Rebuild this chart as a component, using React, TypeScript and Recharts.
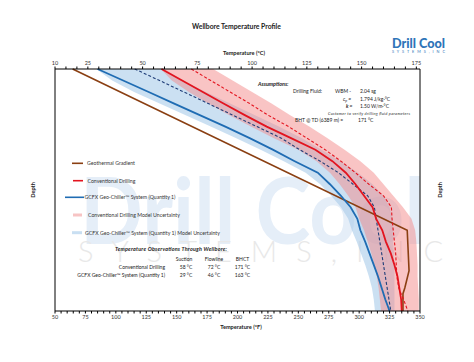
import React from "react";
import { ComposedChart, Line, Area, XAxis, YAxis, CartesianGrid } from "recharts";

// depth below surface (ft), one reading per gridline
const DEPTH_FT = [
  0, 1000, 2000, 3000, 4000, 5000, 6000, 7000, 8000, 9000, 10000, 11000,
  12000, 13000, 14000, 15000, 16000, 17000, 18000, 19000, 20000, 21000,
];

// temperatures in °F
const CONV_SUCTION_F = [
  137.5, 154.5, 171.5, 188.5, 206, 224, 244, 264, 278, 289, 297, 304, 311,
  314, 319, 322, 326, 329, 331.5, 333, 334.5, 335,
];
const CONV_FLOWLINE_F = [
  162, 178, 194, 210, 225, 242, 257, 272, 285, 297, 308, 320, 326.5, 327,
  328, 329, 330, 330.5, 331, 332.5, 336.5, 340,
];
const GCFX_SUCTION_F = [
  85, 106, 127, 148, 169, 190, 210, 229, 247, 266, 276, 285, 293, 298.5, 301,
  305, 308.5, 312, 315.5, 318.5, 321.5, 325,
];
const GCFX_FLOWLINE_F = [
  115.5, 136, 156, 176, 196, 216, 236, 251, 268, 283, 295, 307, 312.5, 314,
  315.5, 317, 318.5, 320, 321.5, 323, 324.5, 326,
];
const CONV_BAND_LOW_F = [
  137, 146, 160, 176, 193, 211, 230, 250, 265, 276, 284, 291, 297, 300, 304,
  307, 310, 312.5, 314.5, 316, 317, 318,
];
const CONV_BAND_HIGH_F = [
  180, 196, 212, 228, 243, 259, 274, 288, 301, 312, 320, 328, 336, 343, 346,
  347, 347.5, 348, 348, 348.5, 349, 349,
];
const GCFX_BAND_LOW_F = [
  84, 97, 115, 136, 157, 178, 199, 219, 238, 256, 268, 277, 285, 291, 294,
  298, 301.5, 305, 308, 310.5, 312, 313,
];
const GCFX_BAND_HIGH_F = [
  140, 155, 174, 194, 214, 234, 253, 269, 285, 299, 311, 320, 325, 327, 328,
  328, 328.5, 329, 329, 329, 329, 329,
];

const GEO_DEPTH_FT = [0, 14000, 17500, 19000, 19500, 21000];
const GEO_F = [64.5, 339.5, 341, 337.5, 336, 336];

const F_TICKS = [50, 75, 100, 125, 150, 175, 200, 225, 250, 275, 300, 325, 350];
const C_TICKS = [10, 25, 50, 75, 100, 125, 150, 175];

const OBS_HEADERS = ["Suction", "Flowline", "BHCT"];
const OBS_ROWS = [
  { name: "Conventional Drilling", values: ["58 °C", "72 °C", "171 °C"] },
  { name: "GCFX Geo-Chiller™ System (Quantity 1)", values: ["29 °C", "46 °C", "163 °C"] },
];

const rows = DEPTH_FT.map((depth, i) => ({
  depth,
  convSuction: CONV_SUCTION_F[i],
  convFlow: CONV_FLOWLINE_F[i],
  gcfxSuction: GCFX_SUCTION_F[i],
  gcfxFlow: GCFX_FLOWLINE_F[i],
  convBand: [CONV_BAND_LOW_F[i], CONV_BAND_HIGH_F[i]],
  gcfxBand: [GCFX_BAND_LOW_F[i], GCFX_BAND_HIGH_F[i]],
}));
const geoRows = GEO_DEPTH_FT.map((depth, i) => ({ depth, geo: GEO_F[i] }));

// minor tick marks only
const fMinor = Array.from({ length: 61 }, (_, i) => 50 + i * 5);
const cMinor = Array.from({ length: 34 }, (_, i) => 10 + i * 5);
const depthMinor = Array.from({ length: 43 }, (_, i) => i * 500);

const FONT = "Lato, 'Open Sans', sans-serif";
const BROWN = "#8a3f12";
const RED = "#e3141f";
const BLUE = "#1f6cb3";
const NAVY = "#1f3d78";
const PINK = "#f48a8a";
const LIGHTBLUE = "#a9cbea";

const tickStyle = { fontSize: 5.5, fill: "#333", fontFamily: FONT };

const legend = [
  { label: "Geothermal Gradient", color: BROWN, x1: 72, x2: 83, y: 163.3, tx: 87, w: 1.6 },
  { label: "Conventional Drilling", color: RED, x1: 73, x2: 83, y: 180.7, tx: 87.5, w: 1.6 },
  { label: "GCFX Geo-Chiller™ System (Quantity 1)", color: BLUE, x1: 65, x2: 84, y: 197.3, tx: 84.5, w: 1.6 },
  { label: "Conventional Drilling Model Uncertainty", color: "#f7c4c4", x1: 73, x2: 82, y: 215, tx: 88, w: 3 },
  { label: "GCFX Geo-Chiller™ System (Quantity 1) Model Uncertainty", color: "#c9dff2", x1: 72, x2: 82, y: 232.7, tx: 85, w: 3 },
];

export default function App() {
  return (
    <div style={{ position: "absolute", left: 0, top: 0, width: 474, height: 362, background: "#fff", fontFamily: FONT }}>
      {/* watermark */}
      <svg width={474} height={362} style={{ position: "absolute", left: 0, top: 0 }}>
        <text x={80} y={244} fontSize={92} fontWeight={700} fill="#e5eef8" textLength={345} lengthAdjust="spacingAndGlyphs" fontFamily={FONT}>
          Drill Cool
        </text>
        <text x={78} y={262} fontSize={29} fontWeight={300} fill="#e8e8e8" textLength={365} lengthAdjust="spacing" fontFamily={FONT}>
          S Y S T E M S ,   I N C
        </text>
      </svg>

      <div style={{ position: "absolute", left: 0, top: 0 }}>
        <ComposedChart
          width={474}
          height={362}
          data={rows}
          layout="vertical"
          margin={{ top: 49, right: 34, bottom: 31, left: 35 }}
        >
          <CartesianGrid
            yAxisId="depth"
            xAxisId="f"
            vertical={false}
            horizontalValues={DEPTH_FT}
            stroke="#d6d6d6"
            strokeWidth={1.2}
          />
          <XAxis
            xAxisId="f"
            type="number"
            orientation="bottom"
            domain={[50, 350]}
            ticks={fMinor}
            interval={0}
            allowDataOverflow
            height={20}
            stroke="#000"
            tickSize={2.5}
            tickMargin={2}
            tick={tickStyle}
            tickFormatter={(v: number) => (F_TICKS.includes(v) ? String(v) : "")}
          />
          <XAxis
            xAxisId="c"
            type="number"
            orientation="top"
            domain={[10, 176.667]}
            ticks={cMinor}
            interval={0}
            allowDataOverflow
            height={20}
            stroke="#000"
            tickSize={2.5}
            tickMargin={2}
            tick={tickStyle}
            tickFormatter={(v: number) => (C_TICKS.includes(v) ? String(v) : "")}
          />
          <YAxis
            yAxisId="depth"
            type="number"
            dataKey="depth"
            domain={[0, 21000]}
            ticks={depthMinor}
            interval={0}
            width={20}
            stroke="#000"
            tickSize={2.5}
            tick={false}
          />
          <YAxis
            yAxisId="depthR"
            orientation="right"
            type="number"
            dataKey="depth"
            domain={[0, 21000]}
            ticks={depthMinor}
            interval={0}
            width={20}
            stroke="#000"
            tickSize={2.5}
            tick={false}
          />
          <Area
            xAxisId="f"
            yAxisId="depth"
            dataKey="gcfxBand"
            stroke="none"
            fill={LIGHTBLUE}
            fillOpacity={0.6}
            isAnimationActive={false}
          />
          <Area
            xAxisId="f"
            yAxisId="depth"
            dataKey="convBand"
            stroke="none"
            fill={PINK}
            fillOpacity={0.5}
            isAnimationActive={false}
          />
          <Line
            xAxisId="f"
            yAxisId="depth"
            data={geoRows}
            dataKey="geo"
            stroke={BROWN}
            strokeWidth={1.6}
            dot={false}
            isAnimationActive={false}
          />
          <Line xAxisId="f" yAxisId="depth" dataKey="gcfxSuction" stroke={BLUE} strokeWidth={1.8} dot={false} isAnimationActive={false} />
          <Line xAxisId="f" yAxisId="depth" dataKey="gcfxFlow" stroke={NAVY} strokeWidth={1.1} strokeDasharray="3 2" dot={false} isAnimationActive={false} />
          <Line xAxisId="f" yAxisId="depth" dataKey="convSuction" stroke={RED} strokeWidth={1.8} dot={false} isAnimationActive={false} />
          <Line xAxisId="f" yAxisId="depth" dataKey="convFlow" stroke={RED} strokeWidth={1.1} strokeDasharray="3 2" dot={false} isAnimationActive={false} />
        </ComposedChart>
      </div>

      {/* titles, legend and notes */}
      <svg width={474} height={362} style={{ position: "absolute", left: 0, top: 0, pointerEvents: "none" }} fontFamily={FONT}>
        <text x={236.5} y={28.5} fontSize={6.8} fontWeight={700} textAnchor="middle" fill="#222">
          Wellbore Temperature Profile
        </text>
        <text x={244} y={55} fontSize={5.6} fontWeight={700} textAnchor="middle" fill="#222">
          Temperature (°C)
        </text>
        <text x={241} y={329} fontSize={5.6} fontWeight={700} textAnchor="middle" fill="#222">
          Temperature (°F)
        </text>
        <text transform="translate(35,190) rotate(-90)" fontSize={5.6} fontWeight={700} textAnchor="middle" fill="#222">
          Depth
        </text>
        <text transform="translate(442,190) rotate(-90)" fontSize={5.6} fontWeight={700} textAnchor="middle" fill="#222">
          Depth
        </text>

        {/* logo */}
        <text x={392} y={48} fontSize={14} fontWeight={900} fill="#2f74b8" textLength={53} lengthAdjust="spacingAndGlyphs">
          Drill Cool
        </text>
        <text x={392} y={52.5} fontSize={3.8} fill="#2f74b8" textLength={53} lengthAdjust="spacing">
          S Y S T E M S ,   I N C
        </text>

        {/* assumptions */}
        <g fill="#222">
          <text x={258} y={86} fontSize={5.4} fontWeight={700} fontStyle="italic">Assumptions:</text>
          <text x={293} y={93} fontSize={5}>Drilling Fluid:</text>
          <text x={335} y={93} fontSize={5}>WBM -</text>
          <text x={360} y={93} fontSize={5}>2.04 sg</text>
          <text x={343} y={100.5} fontSize={5} fontStyle="italic">c<tspan fontSize={3.5} dy={1}>p</tspan><tspan dy={-1}> =</tspan></text>
          <text x={360} y={100.5} fontSize={5}>1.794 J/kg·°C</text>
          <text x={346} y={108} fontSize={5} fontStyle="italic" fontWeight={700}>k =</text>
          <text x={360} y={108} fontSize={5}>1.50 W/m·°C</text>
          <text x={328} y={114.5} fontSize={3.9} fontStyle="italic" textLength={82}>Customer to verify drilling fluid parameters</text>
          <text x={295} y={121.5} fontSize={5}>BHT @ TD (6389 m) =</text>
          <text x={358} y={121.5} fontSize={5}>171 °C</text>
        </g>

        {/* observations table */}
        <g fill="#222">
          <text x={115} y={251} fontSize={5.4} fontWeight={700} fontStyle="italic" textLength={112}>
            Temperature Observations Through Wellbore:
          </text>
          {OBS_HEADERS.map((h, j) => (
            <text key={h} x={[184, 214, 242.5][j]} y={260.5} fontSize={5} textAnchor="middle">{h}</text>
          ))}
          {OBS_ROWS.map((r, i) => (
            <g key={r.name}>
              <text x={165} y={268.8 + i * 8.4} fontSize={5} textAnchor="end">{r.name}</text>
              {r.values.map((v, j) => (
                <text key={j} x={[186, 214, 242.5][j]} y={268.8 + i * 8.4} fontSize={5} textAnchor="middle">{v}</text>
              ))}
            </g>
          ))}
        </g>

        {/* legend */}
        {legend.map((l) => (
          <g key={l.label}>
            <line x1={l.x1} x2={l.x2} y1={l.y} y2={l.y} stroke={l.color} strokeWidth={l.w} />
            <text x={l.tx} y={l.y + 1.8} fontSize={5.2} fill="#333">{l.label}</text>
          </g>
        ))}
      </svg>
    </div>
  );
}
